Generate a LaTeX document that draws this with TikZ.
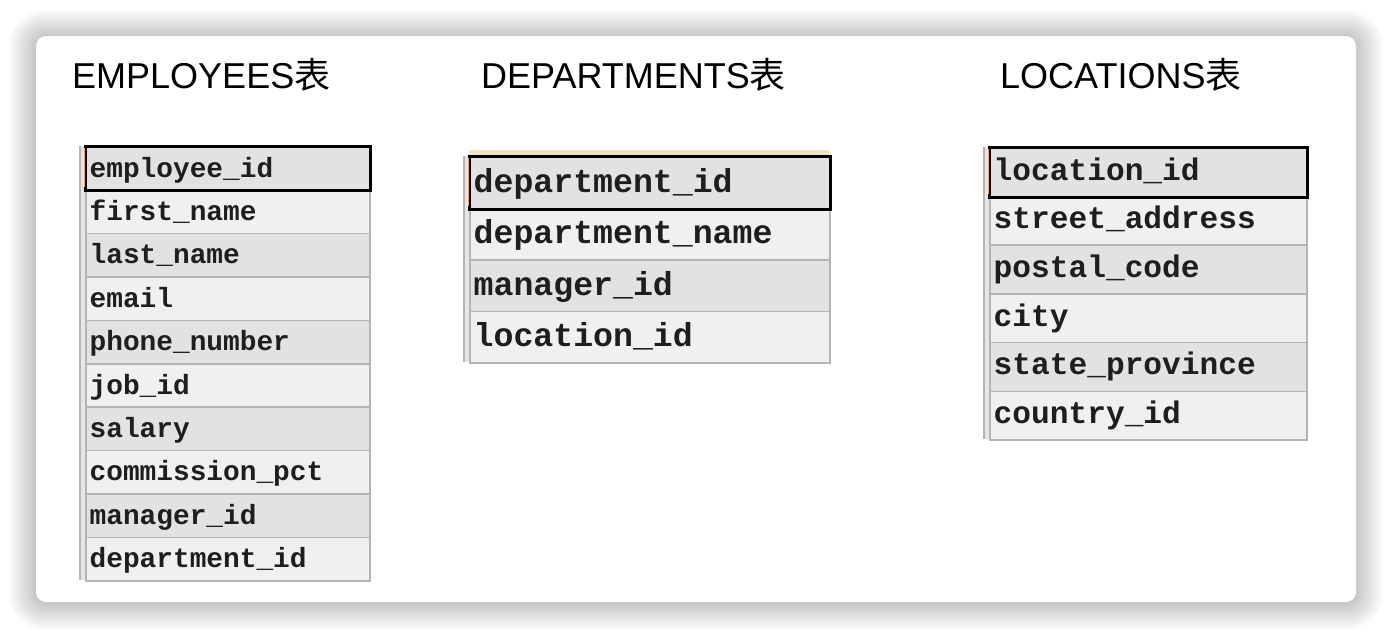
\documentclass[tikz,border=0pt]{standalone}
\usepackage{fontspec}
\setmainfont{Liberation Sans}
\setmonofont{Liberation Mono}
\newfontfamily\cjkfont{Noto Sans CJK SC}
\definecolor{rowdark}{HTML}{E2E2E2}
\definecolor{rowlight}{HTML}{F0F0F0}
\definecolor{gridgray}{HTML}{B4B4B4}
\definecolor{gutter}{HTML}{E6E6E6}
\definecolor{txt}{HTML}{1E1E1E}
\definecolor{hdr}{HTML}{EFE4C4}
\tikzset{
  title/.style={anchor=base west,inner sep=0pt,font=\fontsize{36}{40}\selectfont,text=black},
  rowbox/.style={anchor=north west,inner sep=0pt,draw=gridgray,line width=1.5pt},
  field/.style={anchor=base west,inner sep=0pt,text=txt},
  keybox/.style={draw=black,line width=3pt},
}
% #1 name, #2 x of cells, #3 top, #4 width, #5 row height, #6 font size, #7 baseline offset, #8 list
\newcommand\dbtable[8]{%
  \foreach \t [count=\i] in {#8} {
    \ifodd\i\def\rc{rowdark}\else\def\rc{rowlight}\fi
    \node[rowbox,fill=\rc,minimum width=#4 pt,minimum height=#5 pt] (#1-\i) at (#2,{#3+(\i-1)*#5}) {};
    \node[field,font=\fontsize{#6}{#6}\selectfont\ttfamily\bfseries] (#1-t\i) at (#2+4.5,{#3+(\i-1)*#5+#7}) {\t};
    \xdef\nrows{\i}
  }
  \fill[gutter] (#2-5,#3) rectangle (#2,{#3+\nrows*#5});
  \draw[gridgray,line width=1.2pt] (#2-5,#3) -- (#2-5,{#3+\nrows*#5});
  \draw[keybox] (#1-1.north west) rectangle (#1-1.south east);
  \fill[orange!70] (#2-1.5,{#3+2}) rectangle (#2,{#3+#5-2});
}
\begin{document}
\begin{tikzpicture}[x=1pt,y=-1pt]
\useasboundingbox (0,0) rectangle (1392,638);
\fill[white] (0,0) rectangle (1392,638);
\foreach \k in {1,...,28} {
  \fill[black,opacity=0.007,rounded corners={10pt+\k pt}] ({36-\k},{36-\k+1}) rectangle ({1356+\k},{602+\k+1});
}
\fill[white,rounded corners=10pt] (36,36) rectangle (1356,602);

\node[title] (tE) at (72,88) {EMPLOYEES{\cjkfont 表}};
\node[title] (tD) at (481,88) {DEPARTMENTS{\cjkfont 表}};
\node[title] (tL) at (1000,88) {LOCATIONS{\cjkfont 表}};

\dbtable{emp}{85}{146}{284}{43.4}{27.8}{31}{employee\_id,first\_name,last\_name,email,phone\_number,job\_id,salary,commission\_pct,manager\_id,department\_id}

\fill[hdr] (469,150) rectangle (829,156);
\dbtable{dep}{469}{156}{360}{51.5}{33.2}{36}{department\_id,department\_name,manager\_id,location\_id}

\dbtable{loc}{989}{147}{317}{48.7}{31.2}{33}{location\_id,street\_address,postal\_code,city,state\_province,country\_id}
\end{tikzpicture}
\end{document}
